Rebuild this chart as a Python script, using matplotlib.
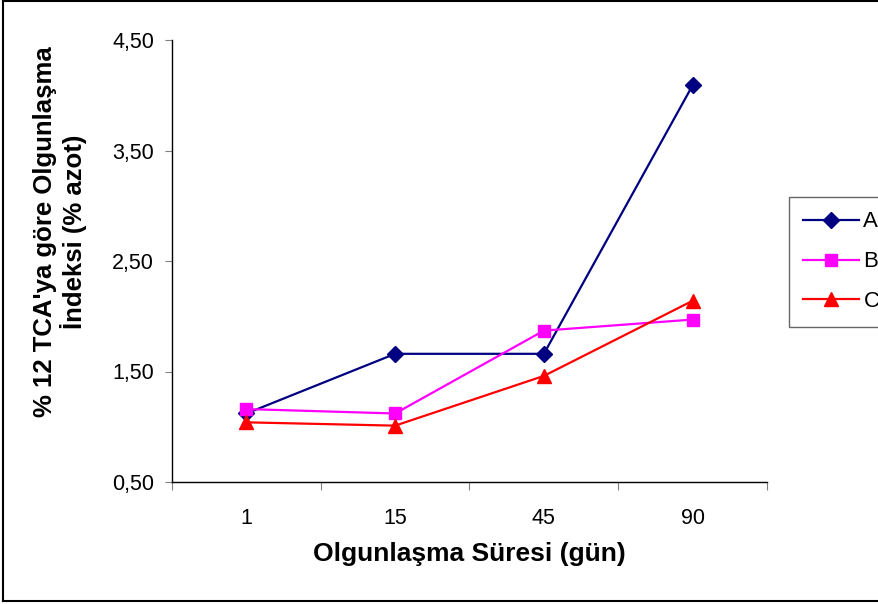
import numpy as np
import matplotlib.pyplot as plt
from matplotlib.lines import Line2D

plt.rcParams['font.family'] = ['Liberation Sans', 'DejaVu Sans']

gunler = ['1', '15', '45', '90']
seri_a = [1.12, 1.66, 1.66, 4.09]
seri_b = [1.16, 1.12, 1.87, 1.97]
seri_c = [1.04, 1.01, 1.46, 2.14]
y_ticks = [0.5, 1.5, 2.5, 3.5, 4.5]

fig = plt.figure(figsize=(8.79, 6.04), dpi=100)
ax = fig.add_axes([172/879, 1 - 482/604, (767 - 172)/879, (482 - 40)/604])

x = np.arange(len(gunler))
ax.plot(x, seri_a, color='#000080', marker='D', markersize=8, lw=1.6, label='A')
ax.plot(x, seri_b, color='#FF00FF', marker='s', markersize=8.5, lw=1.6, label='B')
ax.plot(x, seri_c, color='#FF0000', marker='^', markersize=10, lw=1.6, label='C')

ax.set_xlim(-0.5, len(gunler) - 0.5)
ax.set_ylim(0.5, 4.5)
ax.set_yticks(y_ticks)
ax.set_yticklabels([f'{v:.2f}'.replace('.', ',') for v in y_ticks], fontsize=15.5)

# category labels between the boundary ticks
ax.set_xticks(np.arange(-0.5, len(gunler)), labels=[''] * (len(gunler) + 1))
ax.set_xticks(x, labels=gunler, minor=True)
ax.tick_params(axis='x', which='major', direction='out', length=6, color='#808080')
ax.tick_params(axis='x', which='minor', length=0, labelsize=15.5, pad=19)
ax.tick_params(axis='y', direction='out', length=5, color='#808080', pad=8)

for s in ['top', 'right']:
    ax.spines[s].set_visible(False)
ax.spines['left'].set_linewidth(1.0)
ax.spines['bottom'].set_linewidth(1.0)

ax.set_xlabel('Olgunlaşma Süresi (gün)', fontsize=19, fontweight='bold', labelpad=9)
ax.set_ylabel("% 12 TCA'ya göre Olgunlaşma\nİndeksi (% azot)", fontsize=18.5,
              fontweight='bold', labelpad=18, linespacing=1.15)
ax.yaxis.label.set_y(0.566)

leg = fig.legend(loc='upper left', bbox_to_anchor=(789/879, 1 - 197/604), fontsize=16,
                 frameon=True, fancybox=False, edgecolor='#404040', borderaxespad=0,
                 handlelength=2.5, handletextpad=0.2, labelspacing=0.85, borderpad=0.65)
leg.get_frame().set_linewidth(1.0)

# outer chart-area border (right edge runs off the figure)
kw = dict(color='black', lw=1.5, transform=fig.transFigure)
fig.add_artist(Line2D([3/879, 3/879], [3/604, 1 - 1/604], **kw))
fig.add_artist(Line2D([3/879, 1], [1 - 1/604, 1 - 1/604], **kw))
fig.add_artist(Line2D([3/879, 1], [3/604, 3/604], **kw))

fig.savefig('out.png', dpi=100)
